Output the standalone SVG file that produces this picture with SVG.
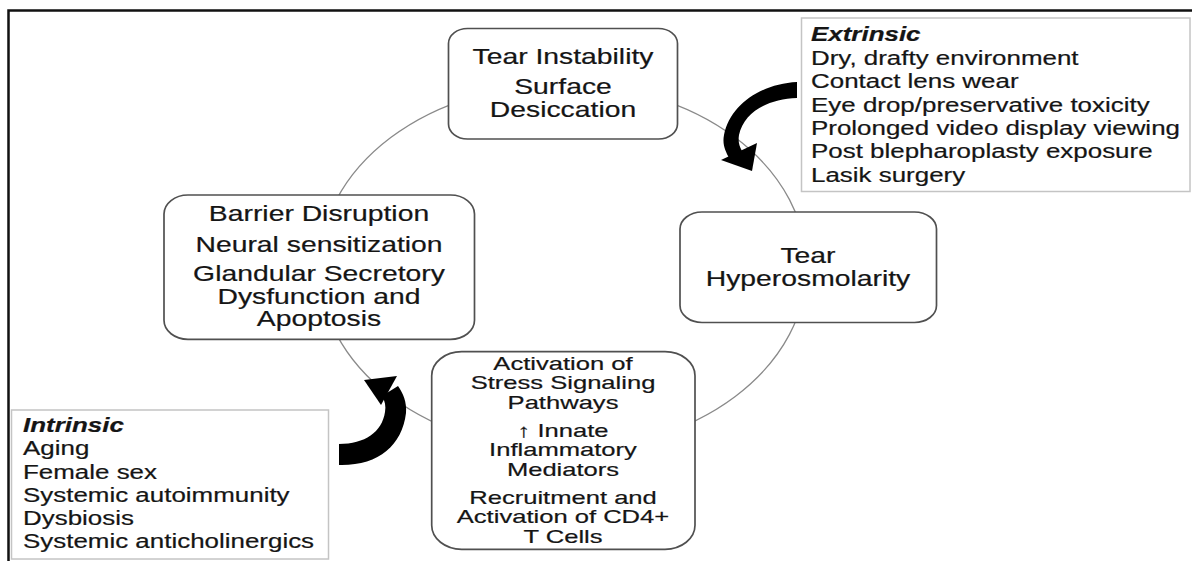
<svg xmlns="http://www.w3.org/2000/svg" width="1192" height="561" viewBox="0 0 1192 561">
<style>
.node{fill:#fff;stroke:#505050;stroke-width:1.7}
.list{fill:#fff;stroke:#c4c4c4;stroke-width:1.5}
.t{font-family:"Liberation Sans",Arial,sans-serif;font-size:21.3px;fill:#151515;stroke:#151515;stroke-width:0.2;text-anchor:middle}
.ta{font-family:"Liberation Sans",Arial,sans-serif;font-size:18.8px;fill:#151515;stroke:#151515;stroke-width:0.2;text-anchor:middle}
.l{font-family:"Liberation Sans",Arial,sans-serif;font-size:19.5px;fill:#151515;stroke:#151515;stroke-width:0.2}
.h{font-weight:bold;font-style:italic}
.conn{fill:none;stroke:#8a8a8a;stroke-width:1.3}
</style>
<rect width="1192" height="561" fill="#fff"/>
<path d="M8.5,561 V10.5 H1192" fill="none" stroke="#111" stroke-width="2.5"/>
<g id="connectors">
<ellipse class="conn" cx="563" cy="267" rx="243.6" ry="183"/>
</g>
<g id="extrinsic-arrow">
<path d="M797,82 C760,84 730,105 724,135 C722,145 726,152 729,158 L742,151 C739,146 738,141 739,135 C744,112 768,99 797,98 Z" fill="#000"/>
<path d="M721,160 L757,143 L752,171 Z" fill="#000"/>
</g>
<g id="intrinsic-arrow">
<path d="M339,465 C378,466 402,446 406,413 C407,402 403,393 398,386 L382,396 C385,401 386,406 385,412 C382,432 365,444 339,444 Z" fill="#000"/>
<path d="M397,376 L364,380 L381,405 Z" fill="#000"/>
</g>
<g id="tear-instability">
<rect class="node" x="448.5" y="28.5" width="229" height="110.5" rx="19" ry="15"/>
<g transform="translate(563,0) scale(1.33,1)">
<text class="t" x="0" y="64.3">Tear Instability</text>
<text class="t" x="0" y="94">Surface</text>
<text class="t" x="0" y="116.7">Desiccation</text>
</g>
</g>
<g id="tear-hyperosmolarity">
<rect class="node" x="680" y="212" width="256.5" height="110.5" rx="22" ry="17"/>
<g transform="translate(808,0) scale(1.33,1)">
<text class="t" x="0" y="263">Tear</text>
<text class="t" x="0" y="286">Hyperosmolarity</text>
</g>
</g>
<g id="activation">
<rect class="node" x="431.7" y="351.7" width="263.3" height="197.6" rx="30" ry="24"/>
<g transform="translate(563,0) scale(1.36,1)">
<text class="ta" x="0" y="370">Activation of</text>
<text class="ta" x="0" y="389.5">Stress Signaling</text>
<text class="ta" x="0" y="409">Pathways</text>
<text class="ta" x="0" y="437">↑ Innate</text>
<text class="ta" x="0" y="456.5">Inflammatory</text>
<text class="ta" x="0" y="476">Mediators</text>
<text class="ta" x="0" y="504">Recruitment and</text>
<text class="ta" x="0" y="523.5">Activation of CD4+</text>
<text class="ta" x="0" y="543">T Cells</text>
</g>
</g>
<g id="barrier">
<rect class="node" x="164" y="195" width="310.5" height="144.3" rx="24" ry="19"/>
<g transform="translate(319,0) scale(1.33,1)">
<text class="t" x="0" y="220.7">Barrier Disruption</text>
<text class="t" x="0" y="251.7">Neural sensitization</text>
<text class="t" x="0" y="281">Glandular Secretory</text>
<text class="t" x="0" y="304">Dysfunction and</text>
<text class="t" x="0" y="326">Apoptosis</text>
</g>
</g>
<g id="extrinsic">
<rect class="list" x="801.5" y="18" width="388.5" height="173.5"/>
<g transform="translate(811,0) scale(1.33,1)">
<text class="l h" x="0" y="40.7">Extrinsic</text>
<text class="l" x="0" y="65">Dry, drafty environment</text>
<text class="l" x="0" y="88.3">Contact lens wear</text>
<text class="l" x="0" y="111.7">Eye drop/preservative toxicity</text>
<text class="l" x="0" y="135">Prolonged video display viewing</text>
<text class="l" x="0" y="158.3">Post blepharoplasty exposure</text>
<text class="l" x="0" y="181.7">Lasik surgery</text>
</g>
</g>
<g id="intrinsic">
<rect class="list" x="11.5" y="410" width="317" height="149"/>
<g transform="translate(23,0) scale(1.33,1)">
<text class="l h" x="0" y="431.7">Intrinsic</text>
<text class="l" x="0" y="455">Aging</text>
<text class="l" x="0" y="479">Female sex</text>
<text class="l" x="0" y="501.7">Systemic autoimmunity</text>
<text class="l" x="0" y="525">Dysbiosis</text>
<text class="l" x="0" y="548.3">Systemic anticholinergics</text>
</g>
</g>
</svg>
